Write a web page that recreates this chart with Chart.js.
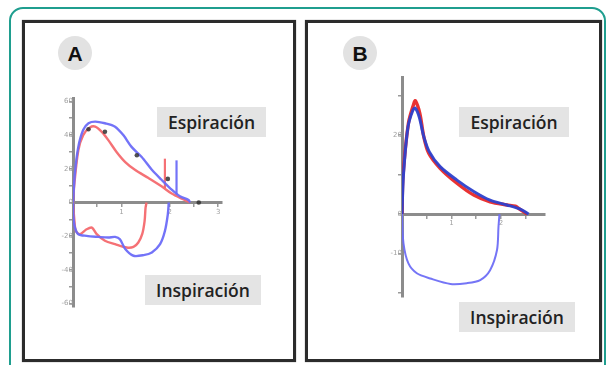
<!DOCTYPE html>
<html>
<head>
<meta charset="utf-8">
<script src="https://cdn.jsdelivr.net/npm/chart.js@4.4.1/dist/chart.umd.min.js"></script>
<style>
html, body { margin: 0; padding: 0; background: #fff; width: 606px; height: 365px; overflow: hidden; position: relative; }
.frame { position: absolute; left: 9px; top: 7px; width: 597px; height: 380px; border: 2px solid #1f9e8f; border-radius: 14px; box-sizing: border-box; }
.panel { position: absolute; top: 20px; height: 342px; border: 3px solid #2c2c2c; box-sizing: border-box; background: #fff; box-shadow: 0 0 1px #777; }
#pa { left: 22px; width: 274px; }
#pb { left: 305px; width: 297px; }
.badge { position: absolute; top: 36px; width: 34px; height: 34px; border-radius: 50%; background: #e2e2e2; font: bold 21px "Liberation Sans", Arial, sans-serif; line-height: 35px; text-align: center; color: #111; }
.tag { position: absolute; height: 30px; background: #e4e4e4; font: 600 17.5px "Open Sans", sans-serif; line-height: 30px; text-align: center; color: #222; }
canvas { position: absolute; }
</style>
</head>
<body>
<div class="frame"></div>
<div class="panel" id="pa"></div>
<div class="panel" id="pb"></div>
<div class="badge" style="left:58px">A</div>
<div class="badge" style="left:343px">B</div>
<div class="tag" style="left:157px;top:107px;width:109px">Espiración</div>
<div class="tag" style="left:145px;top:275px;width:116px">Inspiración</div>
<div class="tag" style="left:459px;top:107px;width:110px">Espiración</div>
<div class="tag" style="left:459px;top:302px;width:116px">Inspiración</div>
<canvas id="ca" width="175" height="229" style="left:59px;top:88px"></canvas>
<canvas id="cb" width="169" height="240" style="left:388px;top:67px"></canvas>
<script>
// panel A: volume (x) vs flow (y)
const aBlueExp = [[0,0],[0.04,17.5],[0.11,33],[0.21,43],[0.32,47],[0.46,48],[0.66,47],[0.87,45],[1.04,40],[1.21,33],[1.42,27],[1.63,19.4],[1.83,13.5],[2.04,7.6],[2.21,3.7],[2.39,1.4],[2.42,0]];
const aRedExp = [[0,0],[0.03,11.6],[0.11,31],[0.21,40],[0.35,44.5],[0.46,45],[0.59,42],[0.73,37],[0.9,30],[1.08,24],[1.28,19.4],[1.56,14.5],[1.83,9.6],[2.04,5.3],[2.25,2.2],[2.39,0.4],[2.42,0]];
const aBlueInsp = [[0,0],[0.01,-9],[0.04,-14.9],[0.11,-18.8],[0.28,-19.8],[0.52,-20.4],[0.73,-20.8],[0.87,-20.4],[0.97,-21.8],[1.08,-27.6],[1.25,-31.6],[1.46,-31.2],[1.63,-29.6],[1.8,-24.7],[1.9,-16.9],[1.96,-7],[1.98,0]];
const aRedInsp = [[0,0],[0.03,-11],[0.06,-16.9],[0.14,-18.8],[0.28,-15.9],[0.39,-14.9],[0.49,-18.8],[0.66,-22.7],[0.87,-24.7],[1.11,-26.7],[1.25,-26.3],[1.35,-23.7],[1.43,-18.8],[1.48,-11],[1.5,-3.1],[1.52,0]];
const aBlueRise = [[2.14,4.5],[2.14,25]];
const aRedRise = [[1.9,8.6],[1.9,26]];
const aMarks = [[0.32,43.5],[0.66,42],[1.32,28],[1.96,14],[2.6,0]];
const aXLabels = [1, 2, 3];
const aYLabels = [60, 40, 20, 0, -20, -40, -60];

// panel B
const bRedExp = [[0,0],[0.02,9.5],[0.13,23],[0.24,28],[0.27,28.7],[0.36,25.5],[0.44,19.6],[0.54,15.4],[0.77,11.6],[1.11,7.8],[1.45,4.8],[1.78,3.1],[2.12,2.3],[2.29,2],[2.36,1.4],[2.53,0]];
const bBlueExp = [[0,0],[0.03,10],[0.12,22],[0.22,26.3],[0.27,26.8],[0.35,24.5],[0.44,19.6],[0.55,15.8],[0.77,12],[1.11,8.6],[1.45,5.7],[1.78,3.5],[2.12,2.3],[2.4,1.2],[2.56,0]];
const bBlueInsp = [[0,0],[0.03,-7.4],[0.13,-12.5],[0.3,-15],[0.57,-16.3],[0.98,-17.7],[1.31,-17.5],[1.58,-16.7],[1.78,-14.2],[1.92,-9.1],[1.95,-3.2],[1.97,0]];
const bXLabels = [1, 2];
const bYLabels = [20, 0, -10];

const pts = arr => arr.map(p => ({ x: p[0], y: p[1] }));

function line(data, color, width) {
  return { data: pts(data), showLine: true, borderColor: color, borderWidth: width, pointRadius: 0, tension: 0.3, fill: false };
}

function axes(xMax, yMin, yMax, yStep, xLabels, yLabels) {
  const common = {
    type: 'linear',
    border: { display: true, color: '#8c8c8c', width: 3 },
    grid: { display: true, drawOnChartArea: false, drawTicks: true, tickLength: 3, color: '#9a9a9a', lineWidth: 1.5 },
  };
  return {
    x: Object.assign({}, common, {
      min: 0, max: xMax, position: { y: 0 },
      ticks: { stepSize: 0.5, includeBounds: false, autoSkip: false, maxRotation: 0, padding: 2,
        color: '#a0a0a0', font: { family: 'DejaVu Sans', size: 7 },
        callback: v => xLabels.includes(v) ? String(v) : '' },
    }),
    y: Object.assign({}, common, {
      min: yMin, max: yMax, position: { x: 0 },
      ticks: { stepSize: yStep, includeBounds: false, autoSkip: false, padding: 2,
        color: '#a0a0a0', font: { family: 'DejaVu Sans', size: 7 },
        callback: v => yLabels.includes(v) ? String(v) : '' },
    }),
  };
}

const base = {
  responsive: false,
  animation: false,
  devicePixelRatio: 1,
  layout: { padding: { left: 14, right: 12, top: 10, bottom: 10 } },
  plugins: { legend: { display: false }, tooltip: { enabled: false } },
};

// first dataset is drawn on top
new Chart(document.getElementById('ca'), {
  type: 'scatter',
  data: {
    datasets: [
      { data: pts(aMarks), showLine: false, pointRadius: 2.3, pointBackgroundColor: 'rgba(50,50,50,0.85)', pointBorderWidth: 0 },
      line(aBlueExp, 'rgba(108,108,248,0.95)', 2.4),
      line(aRedExp, 'rgba(244,105,110,0.95)', 2.4),
      line(aBlueInsp, 'rgba(108,108,248,0.95)', 2.4),
      line(aRedInsp, 'rgba(244,105,110,0.95)', 2.4),
      line(aRedRise, 'rgba(244,105,110,0.95)', 2.2),
      line(aBlueRise, 'rgba(108,108,248,0.95)', 2.2),
    ],
  },
  options: Object.assign({}, base, { scales: axes(3.08, -62, 62, 10, aXLabels, aYLabels) }),
});

new Chart(document.getElementById('cb'), {
  type: 'scatter',
  data: {
    datasets: [
      line(bBlueExp, 'rgba(45,65,205,0.95)', 3),
      line(bRedExp, 'rgba(232,40,40,0.95)', 3.4),
      line(bBlueInsp, 'rgba(110,110,245,0.95)', 2),
    ],
  },
  options: Object.assign({}, base, { scales: axes(2.89, -21, 34.7, 10, bXLabels, bYLabels) }),
});
</script>
</body>
</html>
